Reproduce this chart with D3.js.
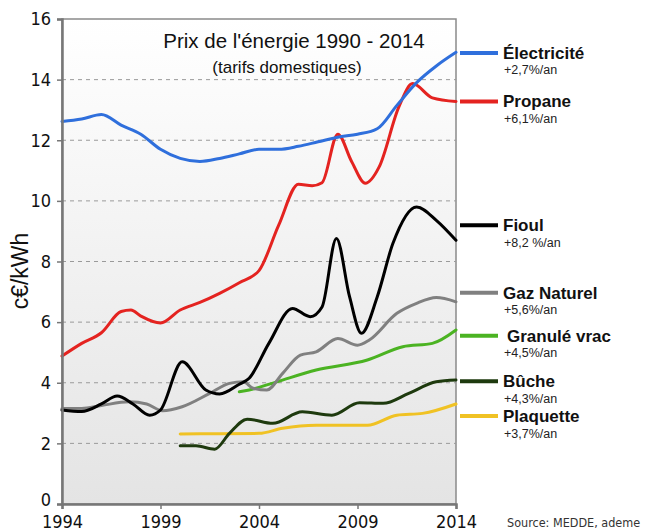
<!DOCTYPE html>
<html>
<head>
<meta charset="utf-8">
<script src="https://cdn.jsdelivr.net/npm/d3@7"></script>
<style>
  body { margin: 0; background: #fff; }
  svg { display: block; }
</style>
</head>
<body>
<script>
// data (year, c€/kWh)
const elecYears = [1994, 1995, 1996, 1997, 1998, 1999, 2000, 2001, 2002, 2003, 2004, 2005, 2006, 2007, 2008, 2009, 2010, 2011, 2012, 2013, 2014];
const elecValues = [12.62, 12.7, 12.85, 12.5, 12.2, 11.7, 11.4, 11.3, 11.4, 11.55, 11.7, 11.7, 11.8, 11.95, 12.1, 12.2, 12.38, 13.15, 13.9, 14.45, 14.9];

const propYears = [1994, 1995, 1996, 1997, 1997.5, 1998, 1999, 2000, 2001, 2002, 2003, 2004, 2005, 2006, 2006.7, 2007.2, 2008, 2008.7, 2009.4, 2010.1, 2011.1, 2011.8, 2012.8, 2014];
const propValues = [4.88, 5.3, 5.65, 6.35, 6.4, 6.2, 5.97, 6.4, 6.65, 6.95, 7.3, 7.7, 9.2, 10.55, 10.5, 10.6, 12.2, 11.3, 10.58, 11.12, 13.1, 13.87, 13.4, 13.28];

const fioulYears = [1994, 1995, 1996, 1996.8, 1997.6, 1998.45, 1999, 2000.1, 2001.3, 2002, 2003, 2003.5, 2004.5, 2005.7, 2006.6, 2007.2, 2007.93, 2008.6, 2009.2, 2010, 2010.8, 2012, 2013, 2014];
const fioulValues = [3.1, 3.05, 3.3, 3.56, 3.3, 2.93, 3.1, 4.69, 3.76, 3.63, 3.95, 4.15, 5.3, 6.45, 6.18, 6.5, 8.76, 6.83, 5.63, 6.83, 8.6, 9.8, 9.36, 8.7];

const gazYears = [1994, 1995, 1996, 1997.4, 1998.3, 1999.1, 2000.1, 2001.5, 2002.5, 2003.2, 2003.7, 2004.4, 2005.2, 2006.1, 2006.9, 2008, 2009, 2009.6, 2011, 2012, 2013, 2014];
const gazValues = [3.15, 3.15, 3.25, 3.37, 3.3, 3.08, 3.21, 3.65, 3.98, 4.03, 3.82, 3.76, 4.31, 4.91, 5.02, 5.46, 5.24, 5.41, 6.29, 6.62, 6.81, 6.67];

const granYears = [2003, 2003.5, 2004.9, 2006.9, 2009.5, 2011.3, 2012.8, 2014];
const granValues = [3.7, 3.76, 4.03, 4.42, 4.75, 5.19, 5.3, 5.74];

const bucheYears = [2000, 2000.8, 2001.75, 2002.5, 2003.4, 2004.7, 2006.2, 2007.7, 2009.1, 2010.3, 2011.6, 2013, 2014];
const bucheValues = [1.92, 1.92, 1.81, 2.33, 2.8, 2.66, 3.04, 2.93, 3.34, 3.32, 3.65, 4.03, 4.09];

const plaqYears = [2000, 2002, 2004, 2005.2, 2006.9, 2009.5, 2011, 2012.3, 2014];
const plaqValues = [2.31, 2.32, 2.33, 2.5, 2.6, 2.6, 2.93, 2.99, 3.3];

const seriesNames = ['Électricité', 'Propane', 'Fioul', 'Gaz Naturel', 'Granulé vrac', 'Bûche', 'Plaquette'];
const seriesRates = ['+2,7%/an', '+6,1%/an', '+8,2 %/an', '+5,6%/an', '+4,5%/an', '+4,3%/an', '+3,7%/an'];
const seriesColors = ['#2f6fdc', '#e42320', '#000000', '#808080', '#4bb322', '#1e3a0e', '#f0c224'];
// where each legend entry sits, in c€/kWh
const legendLevels = [14.88, 13.28, 9.2, 6.97, 5.55, 4.05, 2.9];

const xTicks = [1994, 1999, 2004, 2009, 2014];
const yTicks = [0, 2, 4, 6, 8, 10, 12, 14, 16];

const svgWidth = 647;
const svgHeight = 532;
const margin = { left: 62, right: 191, top: 19, bottom: 28 };
const width = svgWidth - margin.left - margin.right;
const height = svgHeight - margin.top - margin.bottom;

const series = [
  [elecYears, elecValues], [propYears, propValues], [fioulYears, fioulValues],
  [gazYears, gazValues], [granYears, granValues], [bucheYears, bucheValues], [plaqYears, plaqValues]
].map(([ys, vs], i) => ({
  name: seriesNames[i],
  rate: seriesRates[i],
  color: seriesColors[i],
  level: legendLevels[i],
  points: ys.map((y, j) => ({ year: y, value: vs[j] }))
}));

const svg = d3.select('body')
  .append('svg')
  .attr('width', svgWidth)
  .attr('height', svgHeight);

const defs = svg.append('defs');
const grad = defs.append('linearGradient')
  .attr('id', 'bg')
  .attr('x1', 0).attr('y1', 0).attr('x2', 0).attr('y2', 1);
grad.append('stop').attr('offset', '0%').attr('stop-color', '#ffffff');
grad.append('stop').attr('offset', '100%').attr('stop-color', '#e4e4e4');

const x = d3.scaleLinear().domain([1994, 2014]).range([0, width]);
const y = d3.scaleLinear().domain([0, 16]).range([height, 0]);

const g = svg.append('g')
  .attr('transform', `translate(${margin.left}, ${margin.top})`);

g.append('rect')
  .attr('width', width)
  .attr('height', height)
  .attr('fill', 'url(#bg)')
  .attr('stroke', '#8a8a8a')
  .attr('stroke-width', 1.5);

// dashed grid
g.append('g')
  .selectAll('line')
  .data(yTicks.filter((d) => d > 0 && d < 16))
  .enter()
  .append('line')
  .attr('x1', 0)
  .attr('x2', width)
  .attr('y1', (d) => y(d))
  .attr('y2', (d) => y(d))
  .attr('stroke', '#9a9a9a')
  .attr('stroke-width', 1)
  .attr('stroke-dasharray', '4,4');

const line = d3.line()
  .x((d) => x(d.year))
  .y((d) => y(d.value))
  .curve(d3.curveMonotoneX);

g.append('g')
  .selectAll('path')
  .data(series.slice().reverse())
  .enter()
  .append('path')
  .attr('d', (d) => line(d.points))
  .attr('fill', 'none')
  .attr('stroke', (d) => d.color)
  .attr('stroke-width', 3)
  .attr('stroke-linejoin', 'round')
  .attr('stroke-linecap', 'round');

// axes
const yAxis = g.append('g')
  .call(d3.axisLeft(y).tickValues(yTicks).tickSize(5).tickPadding(6).tickFormat(d3.format('d')));
const xAxis = g.append('g')
  .attr('transform', `translate(0, ${height})`)
  .call(d3.axisBottom(x).tickValues(xTicks).tickSize(5).tickPadding(6).tickFormat(d3.format('d')));

[yAxis, xAxis].forEach((ax) => {
  ax.select('.domain').attr('stroke', '#777').attr('stroke-width', 2.5);
  ax.selectAll('.tick line').attr('stroke', '#777').attr('stroke-width', 1.5);
  ax.selectAll('.tick text')
    .attr('fill', '#111')
    .style('font-family', '"DejaVu Sans Condensed", "DejaVu Sans", sans-serif')
    .style('font-size', '18px');
});

// lift the "0" a little so it clears "1994"
yAxis.selectAll('.tick text')
  .filter((d) => d === 0)
  .attr('y', -4);

svg.append('text')
  .attr('transform', `translate(28, 271) rotate(-90)`)
  .attr('text-anchor', 'middle')
  .style('font-family', '"Liberation Sans", Arial, sans-serif')
  .style('font-size', '23px')
  .attr('fill', '#111')
  .text('c€/kWh');

// titles
svg.append('text')
  .attr('x', 294)
  .attr('y', 48)
  .attr('text-anchor', 'middle')
  .style('font-family', '"Liberation Sans", Arial, sans-serif')
  .style('font-size', '20.5px')
  .attr('fill', '#111')
  .text("Prix de l'énergie 1990 - 2014");

svg.append('text')
  .attr('x', 287)
  .attr('y', 73)
  .attr('text-anchor', 'middle')
  .style('font-family', '"Liberation Sans", Arial, sans-serif')
  .style('font-size', '17px')
  .attr('fill', '#111')
  .text('(tarifs domestiques)');

// legend on the right
const legend = svg.append('g')
  .selectAll('g')
  .data(series)
  .enter()
  .append('g')
  .attr('transform', (d) => `translate(${margin.left + width}, ${margin.top + y(d.level)})`);

legend.append('line')
  .attr('x1', 4)
  .attr('x2', 42)
  .attr('stroke', (d) => d.color)
  .attr('stroke-width', 4);

legend.append('text')
  .attr('x', (d) => d.name === 'Granulé vrac' ? 51 : 47)
  .attr('y', 6)
  .style('font-family', '"Liberation Sans", Arial, sans-serif')
  .style('font-size', '17px')
  .style('font-weight', 'bold')
  .attr('fill', '#111')
  .text((d) => d.name);

legend.append('text')
  .attr('x', 48)
  .attr('y', 21.5)
  .style('font-family', '"Liberation Sans", Arial, sans-serif')
  .style('font-size', '12.5px')
  .attr('fill', '#222')
  .text((d) => d.rate);

svg.append('text')
  .attr('x', 507)
  .attr('y', 527)
  .style('font-family', '"DejaVu Sans Condensed", "DejaVu Sans", sans-serif')
  .style('font-size', '12.5px')
  .attr('fill', '#333')
  .text('Source: MEDDE, ademe');
</script>
</body>
</html>
